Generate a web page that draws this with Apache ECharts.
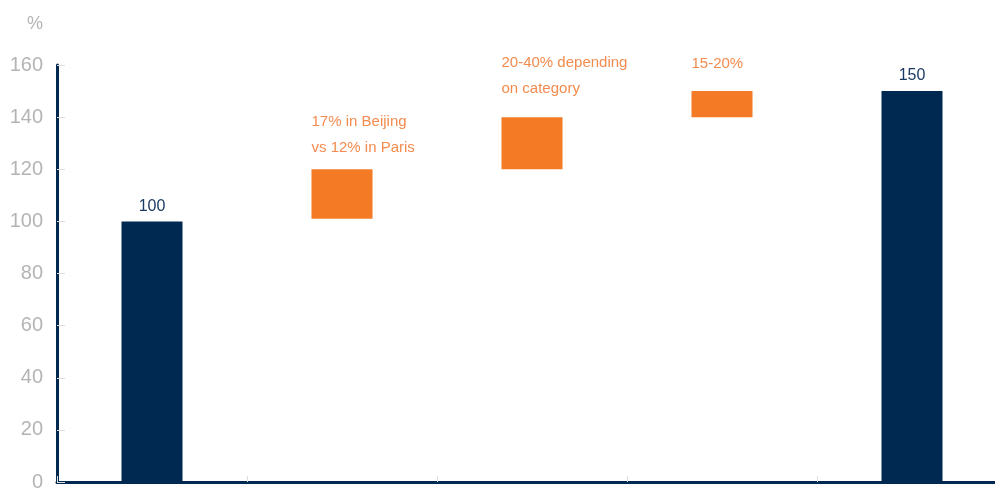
<!DOCTYPE html>
<html>
<head>
<meta charset="utf-8">
<script src="https://cdn.jsdelivr.net/npm/echarts@6/dist/echarts.min.js"></script>
<style>
    html, body { margin: 0; padding: 0; background: #fff; }
    #chart { width: 995px; height: 494px; }
</style>
</head>
<body>
<div id="chart"></div>
<script>
const categories = ['Start', 'Beijing vs Paris', 'Category', 'Other', 'End']
// navy totals (null where none)
const totals = [100, null, null, null, 150]
// floating orange ranges: base and height
const rangeBase = [null, 101, 120, 140, null]
const rangeSize = [null, 19, 20, 10, null]
const rangeNotes = [null, '17% in Beijing\nvs 12% in Paris', '20-40% depending\non category', '15-20%', null]
const noteOffsets = [null, -60, -67, -40, null]
const yTicks = [0, 20, 40, 60, 80, 100, 120, 140, 160]

const NAVY = '#002952'
const ORANGE = '#f47a25'
const ORANGE_TEXT = '#f38b4e'
const GREY = '#b4b4b4'
const FONT = '"Liberation Sans", Arial, sans-serif'

const chart = echarts.init(document.getElementById('chart'))

const orangeData = rangeSize.map((v, i) => {
    if (v == null) return null
    return {
        value: v,
        label: {
            show: true,
            position: [0, noteOffsets[i]],
            align: 'left',
            verticalAlign: 'top',
            formatter: rangeNotes[i],
            color: ORANGE_TEXT,
            fontSize: 15,
            lineHeight: 26,
            fontFamily: FONT
        }
    }
})

chart.setOption({
    animation: false,
    grid: {
        left: 57,
        width: 950,
        top: 65,
        bottom: 12,
        outerBoundsMode: 'none'
    },
    xAxis: {
        type: 'category',
        data: categories,
        axisLine: { lineStyle: { color: NAVY, width: 3 } },
        axisTick: { show: true, inside: true, length: 6, lineStyle: { color: '#dddddd' } },
        axisLabel: { show: false },
        splitLine: { show: false }
    },
    yAxis: {
        type: 'value',
        min: yTicks[0],
        max: yTicks[yTicks.length - 1],
        interval: 20,
        name: '%',
        nameLocation: 'end',
        nameGap: 32,
        nameTextStyle: { color: GREY, fontSize: 18, fontFamily: FONT, align: 'right', padding: [0, 14, 0, 0] },
        axisLine: { show: true, lineStyle: { color: NAVY, width: 3 } },
        axisTick: { show: true, inside: true, length: 8, lineStyle: { color: '#dddddd' } },
        axisLabel: { color: GREY, fontSize: 20, fontFamily: FONT, margin: 14 },
        splitLine: { show: false }
    },
    series: [
        {
            name: 'total',
            type: 'bar',
            stack: 'a',
            barWidth: 61,
            data: totals,
            itemStyle: { color: NAVY },
            label: {
                show: true,
                position: 'top',
                color: '#1c3a62',
                fontSize: 16,
                fontFamily: FONT,
                distance: 7
            }
        },
        {
            name: 'base',
            type: 'bar',
            stack: 'a',
            barWidth: 61,
            data: rangeBase,
            itemStyle: { color: 'transparent' },
            silent: true
        },
        {
            name: 'range',
            type: 'bar',
            stack: 'a',
            barWidth: 61,
            data: orangeData,
            itemStyle: { color: ORANGE }
        }
    ]
})
</script>
</body>
</html>
